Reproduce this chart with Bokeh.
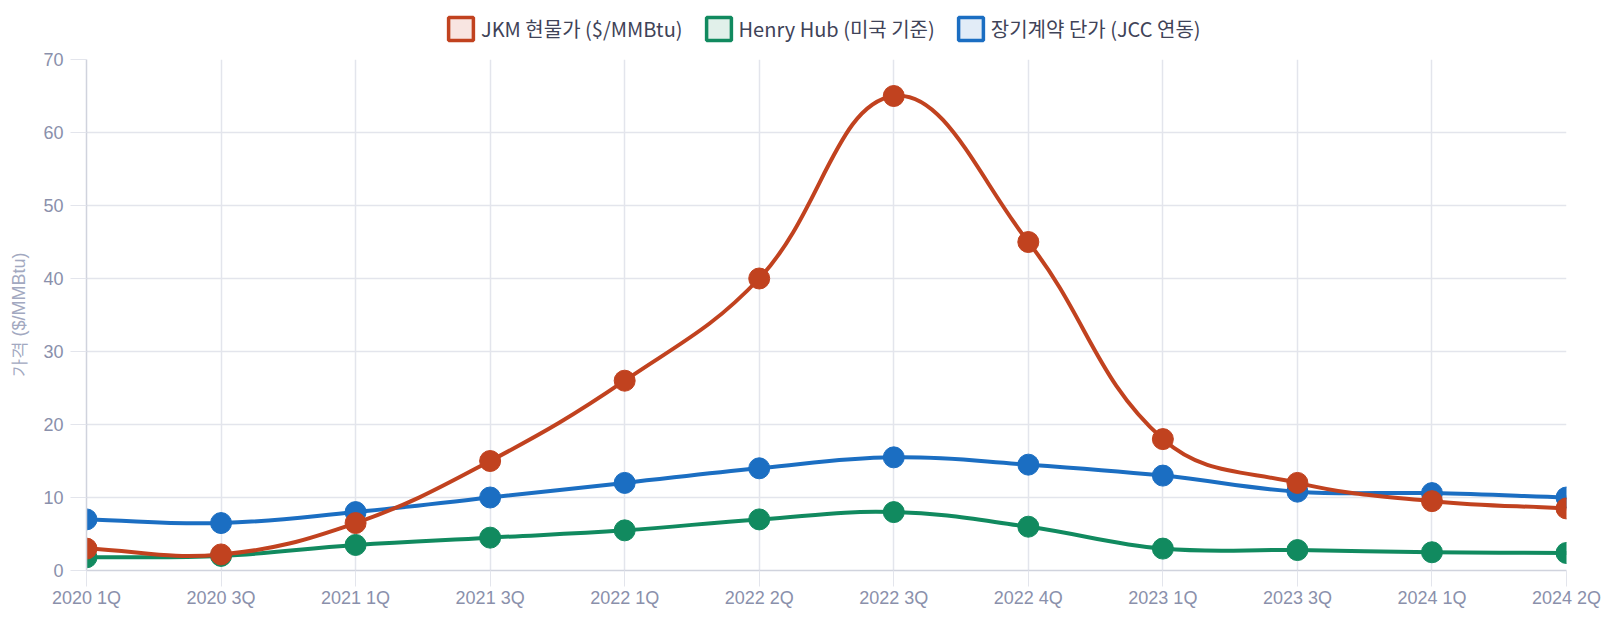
import math
import numpy as np
from bokeh.plotting import figure
from bokeh.layouts import column
from bokeh.models import Range1d, FixedTicker, Legend, LegendItem, ColumnDataSource
from bokeh.embed import file_html
from bokeh.resources import INLINE

# ---------------- data ----------------
quarters = ["2020 1Q", "2020 3Q", "2021 1Q", "2021 3Q", "2022 1Q", "2022 2Q",
            "2022 3Q", "2022 4Q", "2023 1Q", "2023 3Q", "2024 1Q", "2024 2Q"]
jkm = [3.0, 2.2, 6.5, 15.0, 26.0, 40.0, 65.0, 45.0, 18.0, 12.0, 9.5, 8.5]
henry = [1.8, 2.0, 3.5, 4.5, 5.5, 7.0, 8.0, 6.0, 3.0, 2.8, 2.5, 2.4]
jcc = [7.0, 6.5, 8.0, 10.0, 12.0, 14.0, 15.5, 14.5, 13.0, 10.8, 10.6, 10.0]

series_names = ["JKM 현물가 ($/MMBtu)", "Henry Hub (미국 기준)", "장기계약 단가 (JCC 연동)"]
series_values = [jkm, henry, jcc]
series_colors = ["#C1421F", "#118A5F", "#1B6EC2"]
series_fills = ["#F8E5E1", "#E1F0EA", "#E2ECF7"]
y_ticks = [0, 10, 20, 30, 40, 50, 60, 70]

Y_MIN, Y_MAX = 0, 70

W = 1605
LH = 46                     # legend strip height
H = 618 - LH                # main figure height
ML, MR, MT, MB = 86, 39, 13, 48
FW, FH = W - ML - MR, H - MT - MB

# ---------------- legend strip ----------------
lg = figure(width=W, height=LH, output_backend="svg", toolbar_location=None,
            x_range=Range1d(0, 1), y_range=Range1d(0, 1),
            min_border_left=0, min_border_right=0, min_border_top=0,
            min_border_bottom=0, outline_line_color=None,
            background_fill_color="white", border_fill_color="white")
lg.axis.visible = False
lg.grid.visible = False

items = []
for name, col, fc in zip(series_names, series_colors, series_fills):
    q = lg.quad(left=[np.nan], right=[np.nan], top=[np.nan], bottom=[np.nan],
                fill_color=fc, line_color=col, line_width=3.5)
    items.append(LegendItem(label=name, renderers=[q]))

legend = Legend(items=items, orientation="horizontal", location=(359, 2.8),
                padding=0, margin=0, spacing=20, glyph_width=31, glyph_height=29,
                label_standoff=5, border_line_color=None, background_fill_alpha=0,
                label_text_font="Noto Sans CJK KR", label_text_font_size="20px",
                label_text_color="#3F4358", label_text_baseline="middle")
lg.add_layout(legend)

# ---------------- main chart ----------------
p = figure(width=W, height=H, output_backend="svg", toolbar_location=None,
           x_range=Range1d(0, len(quarters) - 1), y_range=Range1d(Y_MIN, Y_MAX),
           min_border_left=ML, min_border_right=MR, min_border_top=MT,
           min_border_bottom=MB, outline_line_color=None,
           background_fill_color="white", border_fill_color="white")

GRID = "#E3E5EC"
AXIS = "#D0D3DD"
TICK_TXT = "#8A90AB"

p.xaxis.ticker = FixedTicker(ticks=list(range(len(quarters))))
p.xaxis.major_label_overrides = {i: q for i, q in enumerate(quarters)}
p.yaxis.ticker = FixedTicker(ticks=y_ticks)

for ax in (p.xaxis[0], p.yaxis[0]):
    ax.major_tick_in = 0
    ax.major_tick_out = 16
    ax.minor_tick_in = 0
    ax.minor_tick_out = 0
    ax.major_tick_line_color = GRID
    ax.major_tick_line_width = 1
    ax.axis_line_color = AXIS
    ax.axis_line_width = 1.5
    ax.major_label_text_font = "Liberation Sans"
    ax.major_label_text_font_size = "18px"
    ax.major_label_text_color = TICK_TXT
p.xaxis.major_label_standoff = 1
p.yaxis.major_label_standoff = 7
p.yaxis.axis_label = "가격 ($/MMBtu)"
p.yaxis.axis_label_text_font = "Liberation Sans"
p.yaxis.axis_label_text_font_size = "18px"
p.yaxis.axis_label_text_font_style = "normal"
p.yaxis.axis_label_text_color = "#A2A8C0"
p.yaxis.axis_label_standoff = 11

p.xgrid.grid_line_color = GRID
p.ygrid.grid_line_color = GRID
p.xgrid.grid_line_width = 1.5
p.ygrid.grid_line_width = 1.5

# pixel scale used for Chart.js-like spline (tension 0.4)
SX = FW / (len(quarters) - 1)
SY = FH / (Y_MAX - Y_MIN)


def spline(xs, ys, t=0.4):
    px = [x * SX for x in xs]
    py = [y * SY for y in ys]
    n = len(px)
    cprev, cnext = [], []
    for i in range(n):
        a = i - 1 if i > 0 else i
        b = i + 1 if i < n - 1 else i
        d01 = math.hypot(px[i] - px[a], py[i] - py[a])
        d12 = math.hypot(px[b] - px[i], py[b] - py[i])
        tot = d01 + d12
        s01 = d01 / tot if tot else 0
        s12 = d12 / tot if tot else 0
        fa, fb = t * s01, t * s12
        cprev.append((px[i] - fa * (px[b] - px[a]), py[i] - fa * (py[b] - py[a])))
        cnext.append((px[i] + fb * (px[b] - px[a]), py[i] + fb * (py[b] - py[a])))

    def clampy(v):
        return min(max(v / SY, Y_MIN), Y_MAX)

    def clampx(v):
        return min(max(v / SX, 0), n - 1)

    return dict(
        x0=xs[:-1], y0=ys[:-1], x1=xs[1:], y1=ys[1:],
        cx0=[clampx(c[0]) for c in cnext[:-1]], cy0=[clampy(c[1]) for c in cnext[:-1]],
        cx1=[clampx(c[0]) for c in cprev[1:]], cy1=[clampy(c[1]) for c in cprev[1:]],
    )


xs = list(range(len(quarters)))
for name, vals, col in reversed(list(zip(series_names, series_values, series_colors))):
    seg = ColumnDataSource(spline(xs, vals))
    p.bezier(x0="x0", y0="y0", x1="x1", y1="y1", cx0="cx0", cy0="cy0",
             cx1="cx1", cy1="cy1", source=seg, line_color=col, line_width=4)
    p.scatter(x=xs, y=vals, size=21, fill_color=col, line_color=col, line_width=1)

layout = column(lg, p, spacing=0)
open("out.html", "w").write(file_html(layout, INLINE))
